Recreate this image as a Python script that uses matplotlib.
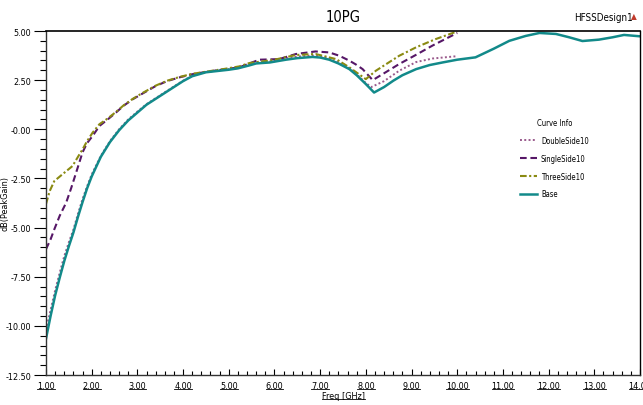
import matplotlib
matplotlib.use("Agg")
import matplotlib.pyplot as plt
from matplotlib.lines import Line2D
from matplotlib.ticker import MultipleLocator, FixedLocator

plt.rcParams['font.family'] = ['DejaVu Sans']
plt.rcParams['font.stretch'] = 'condensed'

# ---- data -------------------------------------------------------------
base_f = [1.0, 1.1, 1.2, 1.3, 1.4, 1.5, 1.6, 1.7, 1.8, 1.9, 2.0, 2.2, 2.4, 2.6,
          2.8, 3.0, 3.2, 3.4, 3.6, 3.8, 4.0, 4.2, 4.5, 5.0, 5.2, 5.45, 5.6, 5.9,
          6.25, 6.5, 6.83, 7.0, 7.2, 7.4, 7.64, 7.8, 8.0, 8.18, 8.4, 8.6, 8.8,
          9.1, 9.4, 9.68, 10.0, 10.4, 10.8, 11.14, 11.5, 11.8, 12.16, 12.45,
          12.74, 13.1, 13.4, 13.65, 14.0]
base_db = [-10.65, -9.5, -8.45, -7.55, -6.7, -5.95, -5.25, -4.45, -3.7, -3.0,
           -2.4, -1.4, -0.65, -0.05, 0.45, 0.85, 1.25, 1.55, 1.85, 2.15, 2.45,
           2.7, 2.9, 3.03, 3.1, 3.25, 3.35, 3.4, 3.54, 3.62, 3.68, 3.65, 3.54,
           3.35, 3.06, 2.75, 2.3, 1.87, 2.15, 2.47, 2.75, 3.06, 3.27, 3.4, 3.54,
           3.66, 4.1, 4.5, 4.75, 4.9, 4.85, 4.68, 4.49, 4.56, 4.68, 4.8, 4.73]

double_f = [1.0, 1.1, 1.2, 1.3, 1.4, 1.5, 1.6, 1.7, 1.8, 1.9, 2.0, 2.2, 2.4,
            2.6, 2.8, 3.0, 3.2, 3.4, 3.6, 3.8, 4.0, 4.2, 4.5, 5.0, 5.2, 5.45,
            5.6, 5.9, 6.25, 6.5, 6.83, 7.0, 7.2, 7.4, 7.64, 7.8, 8.0, 8.12, 8.4,
            8.73, 9.1, 9.46, 10.0]
double_db = [-10.2, -9.2, -8.2, -7.3, -6.45, -5.75, -5.1, -4.3, -3.55, -2.9,
             -2.3, -1.35, -0.6, 0.0, 0.5, 0.9, 1.28, 1.58, 1.88, 2.18, 2.47,
             2.72, 2.92, 3.06, 3.12, 3.28, 3.38, 3.45, 3.6, 3.7, 3.75, 3.72,
             3.6, 3.4, 3.1, 2.8, 2.35, 2.15, 2.45, 2.98, 3.42, 3.6, 3.72]

single_f = [1.0, 1.1, 1.18, 1.3, 1.44, 1.55, 1.66, 1.8, 1.9, 2.02, 2.17, 2.35,
            2.53, 2.7, 2.9, 3.1, 3.4, 3.65, 3.92, 4.2, 4.5, 4.9, 5.23, 5.45,
            5.67, 6.1, 6.47, 6.9, 7.2, 7.42, 7.64, 7.78, 7.93, 8.15, 8.37, 8.73,
            9.1, 9.46, 10.0]
single_db = [-6.1, -5.6, -5.1, -4.4, -3.74, -3.0, -2.2, -1.17, -0.7, -0.34,
             0.17, 0.5, 0.85, 1.2, 1.53, 1.8, 2.2, 2.45, 2.64, 2.8, 2.92, 3.05,
             3.15, 3.35, 3.54, 3.57, 3.83, 3.96, 3.91, 3.74, 3.49, 3.3, 3.06,
             2.5, 2.81, 3.32, 3.79, 4.26, 4.9]

three_f = [1.0, 1.08, 1.18, 1.38, 1.58, 1.7, 1.8, 1.9, 2.02, 2.17, 2.35, 2.53,
           2.7, 2.9, 3.1, 3.4, 3.65, 3.92, 4.2, 4.5, 4.9, 5.23, 5.45, 5.96,
           6.47, 6.9, 7.35, 7.64, 7.85, 8.0, 8.22, 8.73, 9.1, 9.53, 10.0]
three_db = [-3.8, -3.15, -2.64, -2.25, -1.87, -1.4, -1.02, -0.6, -0.17, 0.26,
            0.55, 0.88, 1.22, 1.55, 1.83, 2.22, 2.47, 2.66, 2.82, 2.93, 3.07,
            3.2, 3.37, 3.52, 3.78, 3.83, 3.57, 3.15, 2.8, 2.55, 2.98, 3.74,
            4.17, 4.59, 4.98]

x_ticks = [1, 2, 3, 4, 5, 6, 7, 8, 9, 10, 11, 12, 13, 14]
x_tick_labels = ["1.00", "2.00", "3.00", "4.00", "5.00", "6.00", "7.00",
                 "8.00", "9.00", "10.00", "11.00", "12.00", "13.00", "14.00"]
y_ticks = [5.0, 2.5, 0.0, -2.5, -5.0, -7.5, -10.0, -12.5]
y_tick_labels = ["5.00", "2.50", "-0.00", "-2.50", "-5.00", "-7.50", "-10.00", "-12.50"]

# ---- figure -----------------------------------------------------------
fig = plt.figure(figsize=(6.43, 4.06), dpi=100)
ax = fig.add_axes([46 / 643, 1 - 376 / 406, (640 - 46) / 643, (376 - 32) / 406])

c_double = "#9a5a8c"
c_single = "#561767"
c_three = "#8a8a12"
c_base = "#128a8a"

ax.plot(double_f, double_db, color=c_double, lw=1.4, ls=(0, (1, 1.2)), label="DoubleSide10")
ax.plot(single_f, single_db, color=c_single, lw=1.5, ls=(0, (3.2, 1.8)), label="SingleSide10")
ax.plot(three_f, three_db, color=c_three, lw=1.5, ls=(0, (3.2, 1.2, 1, 1.2)), label="ThreeSide10")
ax.plot(base_f, base_db, color=c_base, lw=1.8, label="Base")

ax.set_xlim(1, 14)
ax.set_ylim(-12.5, 5)

ax.xaxis.set_major_locator(FixedLocator(x_ticks))
ax.set_xticklabels(x_tick_labels, fontsize=6.5)
ax.xaxis.set_minor_locator(MultipleLocator(0.2))
ax.yaxis.set_major_locator(FixedLocator(y_ticks))
ax.set_yticklabels(y_tick_labels, fontsize=6.5)
ax.yaxis.set_minor_locator(MultipleLocator(0.5))

ax.tick_params(axis='y', which='major', direction='out', length=9, width=0.8, pad=1.5)
ax.tick_params(axis='y', which='minor', direction='out', length=4, width=0.8)
ax.tick_params(axis='x', which='major', direction='in', length=4, width=0.8, pad=4)
ax.tick_params(axis='x', which='minor', direction='in', length=3, width=0.8)

for side in ['left', 'bottom']:
    ax.spines[side].set_linewidth(1.0)
    ax.spines[side].set_color('#333333')
ax.spines['top'].set_linewidth(1.2)
ax.spines['right'].set_linewidth(1.0)

ax.set_xlabel("Freq [GHz]", fontsize=6.5, labelpad=1)
ax.set_ylabel("dB(PeakGain)", fontsize=6.5)
ax.yaxis.set_label_coords(-0.061, 0.5)

fig.text(343 / 643, 1 - 17 / 406, "10PG", ha='center', va='center', fontsize=10.5)
fig.text(603 / 643, 1 - 18 / 406, "HFSSDesign1", ha='center', va='center', fontsize=7)
fig.text(634 / 643, 1 - 17 / 406, "\u25B2", ha='center', va='center', fontsize=6,
         color='#c0392b')

leg = ax.legend(loc='upper left', bbox_to_anchor=(515 / 643, 1 - 114 / 406),
                bbox_transform=fig.transFigure, frameon=False, fontsize=5.5,
                title="Curve Info", title_fontsize=5.5, handlelength=2.2,
                handletextpad=0.5, labelspacing=1.15, borderpad=0.2)

# underline the frequency tick labels and the x-axis label
fig.canvas.draw()
renderer = fig.canvas.get_renderer()
W, H = fig.bbox.width, fig.bbox.height
for t in ax.get_xticklabels() + [ax.xaxis.label]:
    bb = t.get_window_extent(renderer)
    y = bb.y0 + 0.5
    fig.add_artist(Line2D([bb.x0 / W, bb.x1 / W], [y / H, y / H],
                          color='black', lw=0.6, transform=fig.transFigure))

fig.savefig("out.png", dpi=100)
